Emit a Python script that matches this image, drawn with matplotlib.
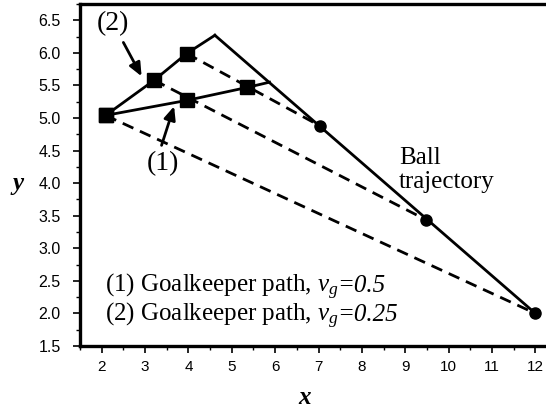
import matplotlib
matplotlib.use("Agg")
import matplotlib.pyplot as plt
from matplotlib.ticker import MultipleLocator

plt.rcParams["mathtext.fontset"] = "custom"
plt.rcParams["mathtext.rm"] = "Liberation Serif"
plt.rcParams["mathtext.it"] = "Liberation Serif:italic"
plt.rcParams["mathtext.bf"] = "Liberation Serif:bold"

# Ball trajectory (solid) and ball positions (filled circles)
ball_x = [4.61, 12.0]
ball_y = [6.27, 2.0]
ball_pts_x = [7.03, 9.47, 12.0]
ball_pts_y = [4.88, 3.44, 2.0]

# Goalkeeper paths
path1_x = [2.09, 3.96, 5.36]
path1_y = [5.04, 5.27, 5.47]
path1_end = (5.87, 5.55)
path2_x = [2.09, 3.21, 3.96]
path2_y = [5.04, 5.58, 5.99]
path2_end = (4.61, 6.27)

# Sight lines from goalkeeper positions to ball positions
sight_from_x = [2.09, 3.21, 3.96]
sight_from_y = [5.04, 5.58, 5.99]
sight_to_x = [12.0, 9.47, 7.03]
sight_to_y = [2.0, 3.44, 4.88]

legend_lines = [("(1) Goalkeeper path, $v_g$", "=0.5"),
                ("(2) Goalkeeper path, $v_g$", "=0.25")]

fig = plt.figure(figsize=(5.46, 4.19), dpi=100)
ax = fig.add_axes([80 / 546, 73 / 419, 1 - 80 / 546 + 0.01, (346 - 4) / 419])

lw = 2.0
for x0, y0, x1, y1 in zip(sight_from_x, sight_from_y, sight_to_x, sight_to_y):
    ax.plot([x0, x1], [y0, y1], color="black", lw=lw, dashes=(4.2, 2.6), zorder=2)

ax.plot(ball_x, ball_y, color="black", lw=lw, zorder=3)
ax.plot(ball_pts_x, ball_pts_y, "o", color="black", ms=8, zorder=5)

ax.plot(path1_x + [path1_end[0]], path1_y + [path1_end[1]], color="black", lw=lw, zorder=3)
ax.plot(path2_x + [path2_end[0]], path2_y + [path2_end[1]], color="black", lw=lw, zorder=3)
ax.plot(path1_x, path1_y, "s", color="black", ms=10, zorder=5)
ax.plot(path2_x, path2_y, "s", color="black", ms=10, zorder=5)

serif = "Liberation Serif"
arrow = dict(arrowstyle="-|>,head_length=0.8,head_width=0.35",
             color="black", lw=2.0, shrinkA=0, shrinkB=0)
ax.text(2.27, 6.45, "(2)", family=serif, fontsize=20, ha="center", va="center")
ax.annotate("", xy=(2.92, 5.64), xytext=(2.5, 6.16), arrowprops=arrow)
ax.text(3.41, 4.3, "(1)", family=serif, fontsize=20, ha="center", va="center")
ax.annotate("", xy=(3.67, 5.18), xytext=(3.38, 4.58), arrowprops=arrow)

ax.text(8.86, 4.2, "Ball\ntrajectory", family=serif, fontsize=18,
        ha="left", va="center", linespacing=1.1)

for (head, tail), y in zip(legend_lines, [2.33, 1.88]):
    t = ax.text(2.08, y, head, family=serif, fontsize=18, ha="left", va="baseline")
    ax.annotate(tail, xy=(1, y), xycoords=(t, "data"), xytext=(-1.5, 0),
                textcoords="offset points", family=serif,
                fontsize=18, style="italic", ha="left", va="baseline")

ax.set_xlim(1.5, 12.37)
ax.set_ylim(1.5, 6.75)
ax.xaxis.set_minor_locator(MultipleLocator(0.5))
ax.yaxis.set_minor_locator(MultipleLocator(0.25))
ax.set_xticks(range(2, 13))
yt = [1.5, 2.0, 2.5, 3.0, 3.5, 4.0, 4.5, 5.0, 5.5, 6.0, 6.5]
ax.set_yticks(yt)
ax.set_yticklabels([f"{v:.1f}" for v in yt])

for lab in ax.get_xticklabels():
    lab.set_family("Liberation Sans")
    lab.set_fontsize(11)
for lab in ax.get_yticklabels():
    lab.set_family("Liberation Sans")
    lab.set_fontsize(11.5)
ax.tick_params(which="major", direction="out", length=5, width=1.2)
ax.tick_params(axis="x", which="major", pad=5)
ax.tick_params(axis="y", which="major", pad=9)
ax.tick_params(which="minor", direction="out", length=3, width=1.0)

for side in ("left", "bottom", "top"):
    ax.spines[side].set_linewidth(2.4)
ax.spines["right"].set_visible(False)

fig.text(305 / 546, 1 - 397 / 419, "x", family=serif, fontsize=18, fontweight="bold",
         style="italic", ha="center", va="center")
fig.text(18 / 546, 1 - 183 / 419, "y", family=serif, fontsize=18, fontweight="bold",
         style="italic", ha="center", va="center")

fig.savefig("out.png", dpi=100)
